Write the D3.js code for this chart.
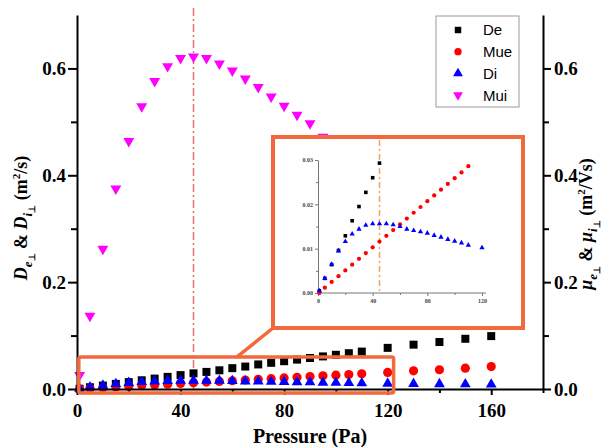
<!DOCTYPE html>
<html>
<head>
<meta charset="utf-8">
<script src="https://cdn.jsdelivr.net/npm/d3@7"></script>
<style>
  body { margin: 0; background: #fff; }
  svg { display: block; }
  .tick text { font-family: "Liberation Serif", "Times New Roman", serif; font-weight: bold; }
</style>
</head>
<body>
<svg id="chart" width="606" height="447"></svg>
<script>
// pressure (Pa) and the four series
const pressure = [1, 5, 10, 15, 20, 25, 30, 35, 40, 45, 50, 55, 60, 65, 70, 75, 80, 85, 90, 95, 100, 105, 110, 120, 130, 140, 150, 160];
const De  = [0.0005, 0.0033, 0.0064, 0.0096, 0.0129, 0.0163, 0.0195, 0.0227, 0.026, 0.0293, 0.032, 0.035, 0.039, 0.042, 0.046, 0.049, 0.052, 0.055, 0.058, 0.061, 0.064, 0.067, 0.070, 0.077, 0.083, 0.088, 0.094, 0.099];
const Mue = [0, 0.0012, 0.0025, 0.0038, 0.0051, 0.0064, 0.0077, 0.009, 0.0103, 0.0116, 0.0129, 0.0142, 0.0155, 0.0168, 0.0181, 0.0194, 0.0207, 0.022, 0.0233, 0.0246, 0.0259, 0.0272, 0.0286, 0.031, 0.034, 0.036, 0.039, 0.042];
const Di  = [0.0005, 0.0033, 0.0065, 0.0095, 0.0116, 0.0133, 0.0144, 0.0153, 0.0156, 0.0156, 0.0156, 0.0154, 0.015, 0.0144, 0.0141, 0.0138, 0.0135, 0.013, 0.0126, 0.0121, 0.0117, 0.0113, 0.0108, 0.0102, 0.0097, 0.0093, 0.009, 0.0087];
const Mui = [0.026, 0.137, 0.262, 0.375, 0.464, 0.529, 0.576, 0.604, 0.619, 0.622, 0.619, 0.609, 0.596, 0.581, 0.565, 0.547, 0.53, 0.513, 0.497, 0.472, 0.458, 0.444, 0.43, 0.404, 0.38, 0.356, 0.334, 0.314];

const yTicks = [0, 0.2, 0.4, 0.6];
const yMinor = [0.1, 0.3, 0.5];
const xTicks = [0, 40, 80, 120, 160];
const xMinor = [20, 60, 100, 140, 180];
const insetXTicks = [0, 40, 80, 120];
const insetXMinor = [20, 60, 100];
const insetYTicks = [0, 0.01, 0.02, 0.03];
const insetYMinor = [0.005, 0.015, 0.025];
const peakPressure = 45;

const series = [
  { name: 'De',  values: De,  color: '#000000', shape: d3.symbolSquare },
  { name: 'Mue', values: Mue, color: '#ff0000', shape: d3.symbolCircle },
  { name: 'Di',  values: Di,  color: '#0000ff', shape: d3.symbolTriangle },
  { name: 'Mui', values: Mui, color: '#ff00ff', shape: 'down' }
];

const svg = d3.select('#chart');
const orange = '#f26a3c';

const x = d3.scaleLinear().domain([0, 180]).range([77, 543]);
const y = d3.scaleLinear().domain([0, 0.7]).range([389, 15]);

function symbolPath (shape, area) {
  if (shape === 'down') {
    return d3.symbol(d3.symbolTriangle, area)();
  }
  return d3.symbol(shape, area)();
}
function rot (shape) { return shape === 'down' ? ' rotate(180)' : ''; }

// peak marker line
svg.append('line')
  .attr('x1', x(peakPressure)).attr('x2', x(peakPressure))
  .attr('y1', 8).attr('y2', y(0))
  .attr('stroke', '#ec6f77').attr('stroke-width', 1.5)
  .attr('stroke-dasharray', '8,3,2,3');

// main markers
const sizes = { De: 64, Mue: 66, Di: 50, Mui: 52 };
series.forEach(s => {
  svg.append('g').selectAll('path')
    .data(pressure.map((p, i) => [p, s.values[i]]))
    .join('path')
    .attr('d', symbolPath(s.shape, sizes[s.name]))
    .attr('transform', d => 'translate(' + x(d[0]) + ',' + y(d[1]) + ')' + rot(s.shape))
    .attr('fill', s.color);
});

// axes
function styleAxis (g) {
  g.select('.domain').attr('stroke', '#000').attr('stroke-width', 2);
  g.selectAll('.tick line').attr('stroke', '#000').attr('stroke-width', 2);
  g.selectAll('.tick text').attr('font-size', 19).attr('fill', '#000');
}
svg.append('g').attr('transform', 'translate(' + x(0) + ',0)')
  .call(d3.axisLeft(y).tickValues(yTicks).tickFormat(d3.format('.1f')).tickSize(9).tickPadding(2).tickSizeOuter(0))
  .call(styleAxis);
svg.append('g').attr('transform', 'translate(' + x(0) + ',0)')
  .call(d3.axisLeft(y).tickValues(yMinor).tickFormat('').tickSize(6).tickSizeOuter(0))
  .call(g => g.select('.domain').remove())
  .call(styleAxis);
svg.append('g').attr('transform', 'translate(' + x(180) + ',0)')
  .call(d3.axisRight(y).tickValues(yTicks).tickFormat(d3.format('.1f')).tickSize(8).tickPadding(3).tickSizeOuter(0))
  .call(styleAxis);
svg.append('g').attr('transform', 'translate(' + x(180) + ',0)')
  .call(d3.axisRight(y).tickValues(yMinor).tickFormat('').tickSize(6).tickSizeOuter(0))
  .call(g => g.select('.domain').remove())
  .call(styleAxis);
svg.append('g').attr('transform', 'translate(0,' + y(0) + ')')
  .call(d3.axisBottom(x).tickValues(xTicks).tickFormat(d3.format('d')).tickSize(6).tickPadding(9).tickSizeOuter(0))
  .call(styleAxis);
svg.append('g').attr('transform', 'translate(0,' + y(0) + ')')
  .call(d3.axisBottom(x).tickValues(xMinor).tickFormat('').tickSize(4).tickSizeOuter(0))
  .call(g => g.select('.domain').remove())
  .call(styleAxis);

// highlight box round the low values, with the leader to the inset
svg.append('rect')
  .attr('x', x(0.7)).attr('y', y(0.06))
  .attr('width', x(122.3) - x(0.7)).attr('height', y(-0.0075) - y(0.06))
  .attr('rx', 2)
  .attr('fill', 'none').attr('stroke', orange).attr('stroke-width', 3.5);
svg.append('line')
  .attr('x1', 237).attr('y1', y(0.06))
  .attr('x2', 273).attr('y2', 328)
  .attr('stroke', orange).attr('stroke-width', 3.5);

// inset
const inset = svg.append('g');
inset.append('rect')
  .attr('x', 273).attr('y', 137).attr('width', 250).attr('height', 191)
  .attr('fill', '#fff').attr('stroke', orange).attr('stroke-width', 4);

const xi = d3.scaleLinear().domain([0, 120]).range([318, 482]);
const yi = d3.scaleLinear().domain([0, 0.03]).range([293, 160]);

inset.append('line')
  .attr('x1', xi(peakPressure)).attr('x2', xi(peakPressure))
  .attr('y1', 140).attr('y2', yi(0))
  .attr('stroke', '#f3a35e').attr('stroke-width', 1.5)
  .attr('stroke-dasharray', '6,3,2,3');

function styleInset (g) {
  g.select('.domain').attr('stroke', '#777').attr('stroke-width', 1);
  g.selectAll('.tick line').attr('stroke', '#777');
  g.selectAll('.tick text').attr('font-size', 6).attr('fill', '#444');
}
inset.append('g').attr('transform', 'translate(' + xi(0) + ',0)')
  .call(d3.axisLeft(yi).tickValues(insetYTicks).tickFormat(d3.format('.2f')).tickSize(3).tickPadding(2).tickSizeOuter(0))
  .call(styleInset);
inset.append('g').attr('transform', 'translate(' + xi(0) + ',0)')
  .call(d3.axisLeft(yi).tickValues(insetYMinor).tickFormat('').tickSize(2).tickSizeOuter(0))
  .call(g => g.select('.domain').remove())
  .call(styleInset);
inset.append('g').attr('transform', 'translate(0,' + yi(0) + ')')
  .call(d3.axisBottom(xi).tickValues(insetXTicks).tickFormat(d3.format('d')).tickSize(3).tickPadding(3).tickSizeOuter(0))
  .call(styleInset)
  .call(g => g.select('.domain').attr('d', 'M' + xi(0) + ',0H' + (xi(120) + 4)));
inset.append('g').attr('transform', 'translate(0,' + yi(0) + ')')
  .call(d3.axisBottom(xi).tickValues(insetXMinor).tickFormat('').tickSize(2).tickSizeOuter(0))
  .call(g => g.select('.domain').remove())
  .call(styleInset);

const insetSizes = { De: 13, Mue: 14, Di: 12 };
series.slice(0, 3).forEach(s => {
  const pts = pressure.map((p, i) => [p, s.values[i]]).filter(d => d[0] <= 120 && d[1] <= 0.0298);
  inset.append('g').selectAll('path')
    .data(pts)
    .join('path')
    .attr('d', symbolPath(s.shape, insetSizes[s.name]))
    .attr('transform', d => 'translate(' + xi(d[0]) + ',' + yi(d[1]) + ')')
    .attr('fill', s.color);
});

// legend
const legend = svg.append('g');
legend.append('rect')
  .attr('x', 436).attr('y', 16).attr('width', 83).attr('height', 91)
  .attr('fill', '#fff').attr('stroke', '#999').attr('stroke-width', 1);
series.forEach((s, i) => {
  const ly = 30 + i * 21.7;
  legend.append('path')
    .attr('d', symbolPath(s.shape, 42))
    .attr('transform', 'translate(458,' + ly + ')' + rot(s.shape))
    .attr('fill', s.color);
  legend.append('text')
    .attr('x', 483).attr('y', ly).attr('dy', '0.36em')
    .attr('font-family', '"Liberation Sans", Arial, sans-serif')
    .attr('font-size', 15)
    .text(s.name);
});

// axis titles
svg.append('text')
  .attr('x', 310).attr('y', 443)
  .attr('text-anchor', 'middle')
  .attr('font-family', '"Liberation Serif", serif').attr('font-weight', 'bold').attr('font-size', 20)
  .text('Pressure (Pa)');

function addTitle (cx, cy, sym, unit) {
  const t = svg.append('text')
    .attr('transform', 'translate(' + cx + ',' + cy + ') rotate(-90)')
    .attr('text-anchor', 'middle')
    .attr('font-family', '"Liberation Serif", serif').attr('font-weight', 'bold').attr('font-size', 18);
  t.append('tspan').attr('font-style', 'italic').text(sym);
  t.append('tspan').attr('font-style', 'italic').attr('font-size', 13).attr('dy', 5).text('e');
  t.append('tspan').attr('font-size', 9).attr('dy', 3).text('\u22a5');
  t.append('tspan').attr('dy', -8).text(' & ');
  t.append('tspan').attr('font-style', 'italic').text(sym);
  t.append('tspan').attr('font-style', 'italic').attr('font-size', 13).attr('dy', 5).text('i');
  t.append('tspan').attr('font-size', 9).attr('dy', 3).text('\u22a5');
  t.append('tspan').attr('dy', -8).text(' (m');
  t.append('tspan').attr('font-size', 11).attr('dy', -7).text('2');
  t.append('tspan').attr('dy', 7).text(unit);
}
addTitle(27, 218, 'D', '/s)');
addTitle(592, 224, '\u03bc', '/Vs)');
</script>
</body>
</html>
